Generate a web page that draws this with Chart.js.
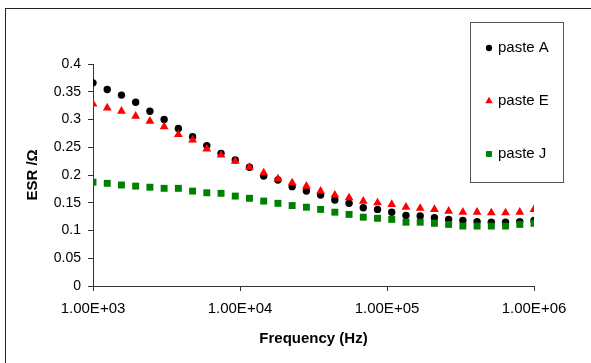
<!DOCTYPE html>
<html>
<head>
<meta charset="utf-8">
<script src="https://cdn.jsdelivr.net/npm/chart.js@4/dist/chart.umd.min.js"></script>
<style>
  html, body { margin: 0; padding: 0; background: #fff; }
  #wrap { width: 591px; height: 363px; position: relative; }
</style>
</head>
<body>
<div id="wrap"><canvas id="c" width="591" height="363"></canvas></div>
<script>
// Frequencies (Hz)
const freqs = [1000, 1250, 1562, 1951, 2438, 3047, 3808, 4758, 5945, 7430, 9284,
  11602, 14497, 18115, 22637, 28289, 35349, 44173, 55201, 68981, 86200,
  107710, 134598, 168194, 210169, 262636, 328196, 410128, 512509, 640465, 800336, 1000000];

const seriesNames = ["paste A", "paste E", "paste J"];

const pasteA = [0.366, 0.354, 0.344, 0.331, 0.315, 0.300, 0.284, 0.269, 0.253, 0.239, 0.227,
  0.214, 0.198, 0.191, 0.179, 0.171, 0.164, 0.155, 0.149, 0.141, 0.138,
  0.133, 0.127, 0.126, 0.123, 0.120, 0.118, 0.116, 0.115, 0.115, 0.116, 0.118];

const pasteE = [0.328, 0.321, 0.315, 0.306, 0.297, 0.287, 0.273, 0.263, 0.247, 0.236, 0.225,
  0.214, 0.204, 0.193, 0.186, 0.180, 0.171, 0.164, 0.159, 0.153, 0.150,
  0.147, 0.142, 0.140, 0.138, 0.135, 0.133, 0.133, 0.132, 0.132, 0.133, 0.138];

const pasteJ = [0.187, 0.185, 0.182, 0.180, 0.178, 0.176, 0.176, 0.171, 0.168, 0.167, 0.162,
  0.158, 0.153, 0.149, 0.145, 0.142, 0.138, 0.133, 0.129, 0.124, 0.122,
  0.120, 0.115, 0.115, 0.113, 0.111, 0.108, 0.108, 0.108, 0.108, 0.111, 0.113];

const xTicks = [1e3, 1e4, 1e5, 1e6];
const xTickLabels = ["1.00E+03", "1.00E+04", "1.00E+05", "1.00E+06"];
const yTickLabels = ["0", "0.05", "0.1", "0.15", "0.2", "0.25", "0.3", "0.35", "0.4"];

const FONT = "'Liberation Sans', Arial, sans-serif";

function pts(vals) { return freqs.map((f, i) => ({ x: f, y: vals[i] })); }

const styles = [
  { color: '#000000', pointStyle: 'circle', radius: 3.7, order: 3 },
  { color: '#ff0000', pointStyle: 'triangle', radius: 5.1, order: 2 },
  { color: '#008000', pointStyle: 'rect', radius: 4.9, order: 1 }
];
const allVals = [pasteA, pasteE, pasteJ];

const datasets = allVals.map((v, i) => ({
  label: seriesNames[i],
  data: pts(v),
  showLine: false,
  pointStyle: styles[i].pointStyle,
  pointRadius: styles[i].radius,
  pointHoverRadius: styles[i].radius,
  pointBackgroundColor: styles[i].color,
  pointBorderColor: styles[i].color,
  pointBorderWidth: 0,
  order: styles[i].order
}));

const frameAndLegend = {
  id: 'frameAndLegend',
  afterDraw(chart) {
    const ctx = chart.ctx;
    ctx.save();
    // outer chart frame
    ctx.strokeStyle = '#222';
    ctx.lineWidth = 1;
    ctx.strokeRect(5.5, 8.5, 700, 500);
    // legend box
    ctx.strokeStyle = '#555';
    ctx.strokeRect(470.5, 22.5, 93, 160);
    seriesNames.forEach((name, i) => {
      const y = 48 + i * 53;
      ctx.fillStyle = styles[i].color;
      ctx.strokeStyle = styles[i].color;
      Chart.helpers.drawPoint(ctx, { pointStyle: styles[i].pointStyle, radius: styles[i].radius * 0.85, rotation: 0, borderWidth: 0 }, 489, y);
      ctx.fillStyle = '#000';
      ctx.font = '15px ' + FONT;
      ctx.textAlign = 'left';
      ctx.textBaseline = 'middle';
      ctx.fillText(name, 498, y);
    });
    ctx.restore();
  }
};

new Chart(document.getElementById('c'), {
  type: 'scatter',
  data: { datasets },
  options: {
    responsive: false,
    animation: false,
    devicePixelRatio: 1,
    layout: { padding: { left: 0, right: 57, top: 64, bottom: 0 } },
    plugins: { legend: { display: false }, tooltip: { enabled: false } },
    scales: {
      x: {
        type: 'logarithmic',
        position: 'bottom',
        min: 1e3,
        max: 1e6,
        afterBuildTicks(scale) { scale.ticks = xTicks.map(v => ({ value: v })); },
        afterFit(scale) { scale.height = 77; },
        ticks: {
          color: '#000',
          font: { family: FONT, size: 15 },
          padding: 9,
          maxRotation: 0,
          autoSkip: false,
          callback(v) { const i = xTicks.indexOf(v); return i >= 0 ? xTickLabels[i] : ''; }
        },
        grid: { display: true, drawOnChartArea: false, drawTicks: true, tickLength: 5, color: '#333' },
        border: { display: true, color: '#333', width: 1 },
        title: {
          display: true,
          text: 'Frequency (Hz)',
          color: '#000',
          font: { family: FONT, size: 15, weight: 'bold' },
          padding: { top: 0, bottom: 15 }
        }
      },
      y: {
        type: 'linear',
        min: 0,
        max: 0.4,
        afterFit(scale) { scale.width = 93; },
        ticks: {
          stepSize: 0.05,
          color: '#000',
          font: { family: FONT, size: 14 },
          padding: 7,
          callback(v) { const i = Math.round(v / 0.05); return yTickLabels[i]; }
        },
        grid: { display: true, drawOnChartArea: false, drawTicks: true, tickLength: 5, color: '#333' },
        border: { display: true, color: '#333', width: 1 },
        title: {
          display: true,
          text: 'ESR /Ω',
          color: '#000',
          font: { family: FONT, size: 15, weight: 'bold' },
          padding: { top: 24, bottom: 0 }
        }
      }
    }
  },
  plugins: [frameAndLegend]
});
</script>
</body>
</html>
